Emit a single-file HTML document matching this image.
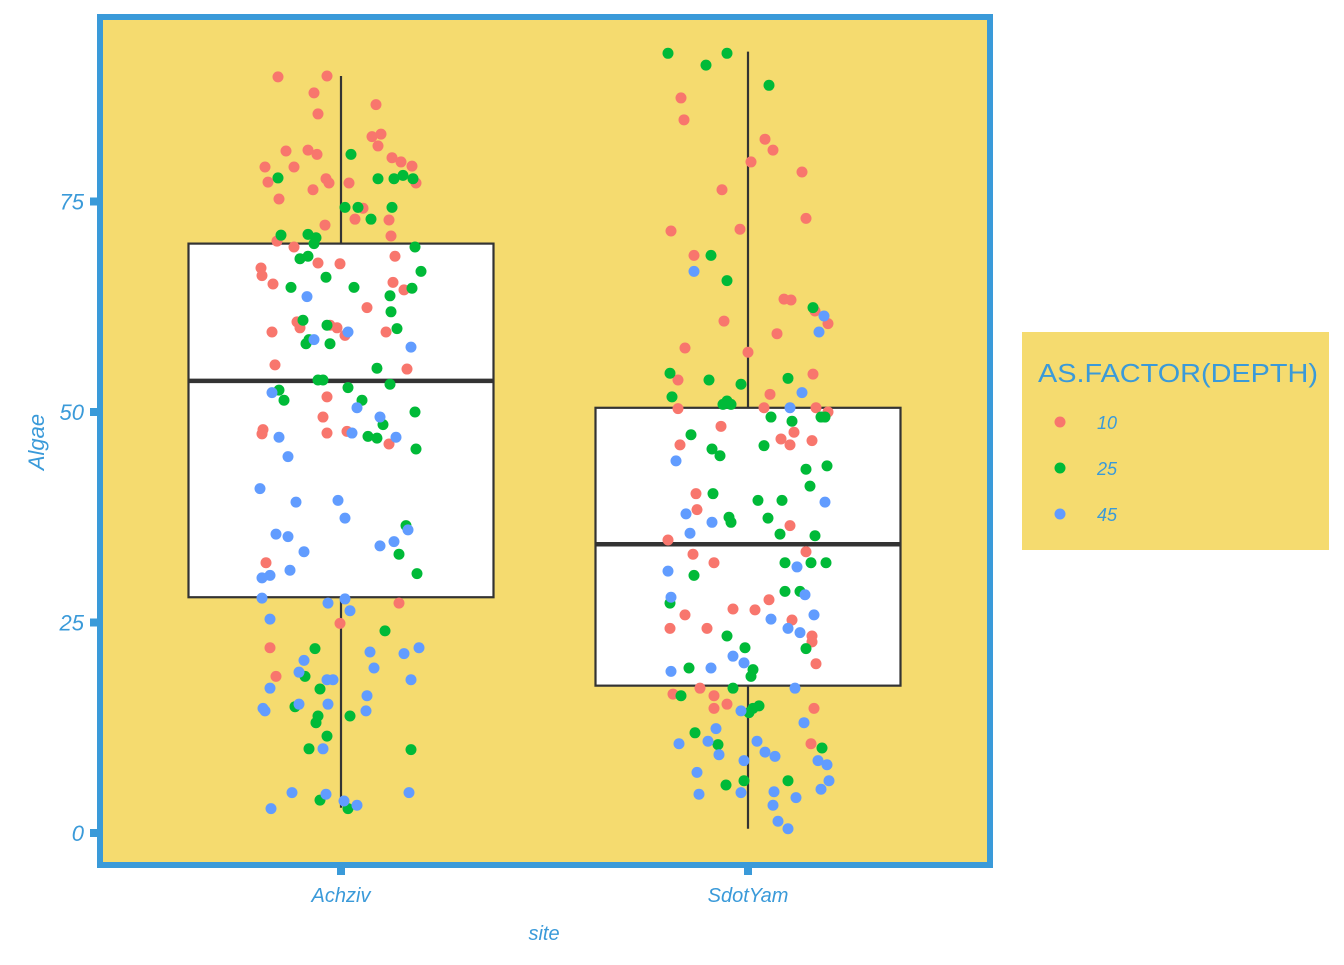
<!DOCTYPE html>
<html><head><meta charset="utf-8"><style>
html,body{margin:0;padding:0;background:#fff;}
svg text{font-family:"Liberation Sans",sans-serif;fill:#3a9ad9;font-style:italic;}
</style></head><body>
<svg id="chart" width="1344" height="960" xmlns="http://www.w3.org/2000/svg">
<rect x="100" y="17" width="890" height="848" fill="#f5db6f" stroke="#3a9ad9" stroke-width="6"/>
<g id="boxes"></g><g id="points"></g><g id="axes"></g>
<g>
<rect x="1022" y="332" width="307" height="218" fill="#f5db6f"/>
<text x="1038" y="382" font-size="26" textLength="280" lengthAdjust="spacingAndGlyphs" style="font-style:normal">AS.FACTOR(DEPTH)</text>
<g id="legend-entries"></g>
</g>
<text x="544" y="940" font-size="20" text-anchor="middle">site</text>
<text transform="translate(44,442) rotate(-90)" font-size="22" text-anchor="middle">Algae</text>
</svg>
<script>
const categories = ["Achziv","SdotYam"];
const depths = ["10","25","45"];
const colors = ["#f8766d","#00ba38","#619cff"];
const yTicks = [0,25,50,75];
// box stats: [whiskerLow, q1, median, q3, whiskerHigh]
const boxAchziv = [3, 28, 53.7, 70, 89.9];
const boxSdotYam = [0.5, 17.5, 34.3, 50.5, 92.8];
// points: values and jitter (in 1/407 category units)
const a10v=[89.8,89.9,87.9,85.4,86.5,82.7,83.0,81.6,81.0,81.1,80.6,79.1,79.1,80.2,79.7,79.2,77.3,77.7,77.2,76.4,77.2,77.2,75.3,74.2,72.9,72.8,72.2,70.9,70.3,69.6,68.5,67.7,67.6,67.1,66.2,65.2,65.4,64.5,62.4,60.7,60.0,60.3,60.0,59.1,59.5,59.5,55.6,55.1,51.8,49.4,47.9,47.4,47.5,47.7,46.2,32.1,27.3,24.9,22.0,18.6];
const a10j=[-63,-14,-27,-23,35,31,40,37,-55,-33,-24,-76,-47,51,60,71,-73,-15,-12,-28,8,75,-62,22,14,48,-16,50,-64,-47,54,-23,-1,-80,-79,-68,52,63,26,-44,-41,-11,-4,4,-69,45,-66,66,-14,-18,-78,-79,-14,6,48,-75,58,-1,-71,-65];
const a25v=[80.6,77.8,77.7,77.7,78.1,77.7,74.3,74.3,74.3,72.9,71.0,71.1,70.7,70.0,69.6,68.5,68.2,66.0,66.7,64.8,64.8,64.7,63.8,61.9,60.9,60.3,59.9,58.1,58.6,58.1,55.2,53.8,53.8,53.3,52.6,52.9,51.4,51.4,50.0,48.5,47.1,46.9,45.6,36.5,33.1,30.8,24.0,21.9,18.6,17.1,15.0,13.9,13.1,13.9,11.5,10.0,9.9,3.9,2.9];
const a25j=[10,-63,37,53,62,72,4,17,51,30,-60,-33,-25,-27,74,-33,-41,-15,80,-50,13,71,49,50,-38,-14,56,-35,-32,-11,36,-23,-18,49,-62,7,-57,21,74,42,27,36,75,65,58,76,44,-26,-36,-21,-46,-23,-25,9,-14,-32,70,-21,7];
const a45v=[63.7,58.6,59.5,57.7,52.3,50.5,49.4,47.0,47.5,47.0,44.7,40.9,39.3,39.5,37.4,35.5,35.2,36.0,34.6,34.1,33.4,31.2,30.6,30.3,27.9,27.3,27.8,26.4,25.4,22.0,21.5,21.3,20.5,19.6,19.1,18.2,18.2,18.2,17.2,16.3,15.3,15.3,14.8,14.5,14.5,10.0,4.8,4.6,4.8,3.8,3.3,2.9];
const a45j=[-34,-27,7,70,-69,16,39,-62,11,55,-53,-81,-45,-3,4,-65,-53,67,53,39,-37,-51,-71,-79,-79,-13,4,9,-71,78,29,63,-37,33,-42,-14,-8,70,-71,26,-42,-13,-78,-76,25,-18,-49,-15,68,3,16,-70];
const s10v=[87.3,84.7,82.4,81.1,79.7,78.5,76.4,73.0,71.7,71.5,68.6,63.4,63.3,62.0,60.5,60.8,59.3,57.6,57.1,54.5,53.8,52.1,50.4,50.5,50.5,50.0,48.3,47.6,46.8,46.6,46.1,46.1,40.3,38.4,36.5,34.8,33.4,33.1,32.1,27.7,26.6,26.5,25.9,25.3,24.3,24.3,23.4,22.7,20.1,17.2,16.5,16.3,15.3,14.8,14.8,10.6];
const s10j=[-67,-64,17,25,3,54,-26,58,-8,-77,-54,36,43,67,80,-24,29,-63,0,65,-70,22,-70,16,68,80,-27,46,33,64,-68,42,-52,-51,42,-80,58,-55,-34,21,-15,7,-63,44,-78,-41,64,64,68,-48,-75,-34,-21,-34,66,63];
const s25v=[92.6,92.6,91.2,88.8,68.6,65.6,62.4,54.6,53.8,53.3,54.0,51.8,51.3,50.9,50.9,49.4,49.4,49.4,48.9,47.3,46.0,45.6,44.8,43.6,43.2,41.2,40.3,39.5,39.5,37.5,36.9,37.4,35.5,35.3,32.1,32.1,32.1,30.6,28.7,28.7,27.3,23.4,22.0,21.9,19.6,19.4,18.6,17.2,16.3,15.1,14.8,14.3,11.9,10.5,10.1,6.2,6.2,5.7];
const s25j=[-80,-21,-42,21,-37,-21,65,-78,-39,-7,40,-76,-21,-25,-17,73,23,77,44,-57,16,-36,-28,79,58,62,-35,10,34,-19,-17,20,32,67,37,63,78,-54,37,52,-78,-21,-3,58,-59,5,3,-15,-67,11,5,1,-53,-30,74,-4,40,-22];
const s45v=[66.7,61.4,59.5,52.3,50.5,44.2,39.3,37.9,36.9,35.6,31.6,31.1,28.3,28.0,25.4,25.9,24.3,23.8,21.0,20.2,19.2,19.6,17.2,14.5,13.1,12.4,10.9,10.6,10.9,9.3,9.6,9.1,8.6,8.6,8.1,7.2,6.2,5.2,4.6,4.8,4.9,4.2,3.3,1.4,0.5];
const s45j=[-54,76,71,54,42,-72,77,-62,-36,-58,49,-80,57,-77,23,66,40,52,-15,-4,-77,-37,47,-7,56,-32,9,-69,-40,-29,17,27,-4,70,79,-51,81,73,-49,-7,26,48,25,30,40];

const NS="http://www.w3.org/2000/svg";
function x(c){return 341+c*407;}
function y(v){return 833-v*8.42;}
function mk(tag,attrs,parent){const e=document.createElementNS(NS,tag);for(const k in attrs)e.setAttribute(k,attrs[k]);parent.appendChild(e);return e;}
const gB=document.getElementById('boxes'),gP=document.getElementById('points'),gA=document.getElementById('axes'),gL=document.getElementById('legend-entries');
[boxAchziv,boxSdotYam].forEach((b,i)=>{
  const cx=x(i),hw=152.5;
  const w1=mk('line',{x1:cx,x2:cx,y1:y(b[0]),y2:y(b[4]),stroke:'#333','stroke-width':2.2},gB);
  
  
  const r=mk('rect',{x:cx-hw,y:y(b[3]),width:hw*2,height:y(b[1])-y(b[3]),fill:'#fff',stroke:'#333','stroke-width':2.2},gB);
  
  
  const m=mk('line',{x1:cx-hw,x2:cx+hw,y1:y(b[2]),y2:y(b[2]),stroke:'#333','stroke-width':4.5},gB);
  
  
});
const sets=[[0,0,a10v,a10j],[0,1,a25v,a25j],[0,2,a45v,a45j],[1,0,s10v,s10j],[1,1,s25v,s25j],[1,2,s45v,s45j]];
sets.forEach(([c,d,vals,jit])=>{
  vals.forEach((v,i)=>{
    const p=mk('circle',{cx:x(c+jit[i]/407),cy:y(v),r:5.5,fill:colors[d]},gP);
    
    
  });
});
yTicks.forEach(t=>{
  const s=mk('rect',{x:90,y:y(t)-4,width:7,height:8,fill:'#3a9ad9'},gA);
  
  
  const l=mk('text',{x:84,y:y(t)+8,'font-size':22,'text-anchor':'end'},gA);
  l.textContent=t;
  
  
});
categories.forEach((c,i)=>{
  const s=mk('rect',{x:x(i)-4,y:868,width:8,height:7,fill:'#3a9ad9'},gA);
  
  
  const l=mk('text',{x:x(i),y:902,'font-size':20,'text-anchor':'middle'},gA);
  l.textContent=c;
  
  
});
depths.forEach((d,i)=>{
  const c=mk('circle',{cx:1060,cy:422+i*46,r:5.5,fill:colors[i]},gL);
  
  
  const t=mk('text',{x:1097,y:429+i*46,'font-size':18},gL);
  t.textContent=d;
  
  
});
</script>
</body></html>
